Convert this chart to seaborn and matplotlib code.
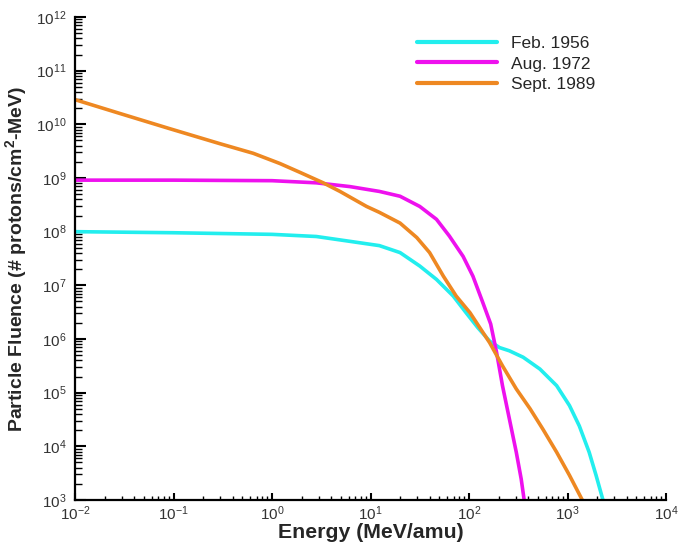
import numpy as np
import pandas as pd
import matplotlib
matplotlib.use('Agg')
import matplotlib.pyplot as plt
from matplotlib.ticker import LogLocator, FuncFormatter, NullFormatter
import seaborn as sns

# ── Data (log10 values) ──────────────────────────────────
feb1956_logE = [-2, -1, 0, 0.45, 0.79, 1.09, 1.30, 1.50, 1.67, 1.84, 1.97, 2.09,
                2.21, 2.31, 2.41, 2.55, 2.72, 2.89, 3.02, 3.12, 3.22, 3.29, 3.36]
feb1956_logF = [8.00, 7.98, 7.95, 7.91, 7.82, 7.74, 7.61, 7.36, 7.11, 6.80, 6.49, 6.21,
                5.96, 5.84, 5.78, 5.66, 5.44, 5.13, 4.76, 4.38, 3.89, 3.46, 3.00]

aug1972_logE = [-2, -1, 0, 0.45, 0.79, 1.09, 1.30, 1.50, 1.67, 1.80, 1.94, 2.04,
                2.14, 2.22, 2.28, 2.34, 2.41, 2.48, 2.53, 2.56]
aug1972_logF = [8.96, 8.96, 8.95, 8.91, 8.84, 8.75, 8.66, 8.47, 8.23, 7.92, 7.54, 7.17,
                6.68, 6.28, 5.75, 5.13, 4.51, 3.89, 3.39, 3.00]

sep1989_logE = [-2, -1.54, -1.04, -0.53, -0.19, 0.08, 0.29, 0.52, 0.69, 0.96, 1.09, 1.30,
                1.47, 1.60, 1.74, 1.87, 2.01, 2.11, 2.21, 2.34, 2.48, 2.62, 2.75, 2.89,
                3.02, 3.15]
sep1989_logF = [10.46, 10.20, 9.92, 9.64, 9.46, 9.27, 9.10, 8.91, 8.75, 8.47, 8.36, 8.16,
                7.89, 7.61, 7.17, 6.80, 6.49, 6.21, 5.93, 5.50, 5.07, 4.70, 4.32, 3.89,
                3.46, 3.00]

labels = ["Feb. 1956", "Aug. 1972", "Sept. 1989"]
colors = ["#22EEEE", "#EE11EE", "#EE8822"]

frames = []
for lab, le, lf in zip(labels,
                       [feb1956_logE, aug1972_logE, sep1989_logE],
                       [feb1956_logF, aug1972_logF, sep1989_logF]):
    frames.append(pd.DataFrame({"Energy": np.power(10.0, le),
                                "Fluence": np.power(10.0, lf),
                                "Event": lab}))
df = pd.concat(frames, ignore_index=True)

# ── Style ─────────────────────────────────────────────────
sns.set_style("white")
plt.rcParams['font.family'] = ['Liberation Sans', 'DejaVu Sans']
plt.rcParams['mathtext.fontset'] = 'custom'
plt.rcParams['mathtext.rm'] = 'Liberation Sans'
plt.rcParams['mathtext.it'] = 'Liberation Sans'
plt.rcParams['mathtext.bf'] = 'Liberation Sans:bold'

fig = plt.figure(figsize=(6.81, 5.42), dpi=100)
ax = fig.add_axes([75 / 681, 1 - 500 / 542, (666 - 75) / 681, (500 - 17) / 542])

sns.lineplot(data=df, x="Energy", y="Fluence", hue="Event", hue_order=labels,
             palette=colors, linewidth=2.6, sort=False, estimator=None, ax=ax)

ax.set_xscale("log")
ax.set_yscale("log")
ax.set_xlim(1e-2, 1e4)
ax.set_ylim(1e3, 1e12)

ax.spines["top"].set_visible(False)
ax.spines["right"].set_visible(False)
for s in ["left", "bottom"]:
    ax.spines[s].set_linewidth(1.6)
    ax.spines[s].set_color("black")

ax.xaxis.set_major_locator(LogLocator(base=10, numticks=20))
ax.yaxis.set_major_locator(LogLocator(base=10, numticks=20))
ax.xaxis.set_minor_locator(LogLocator(base=10, subs=np.arange(2, 10), numticks=20))
ax.yaxis.set_minor_locator(LogLocator(base=10, subs=np.arange(2, 10), numticks=20))
fmt = FuncFormatter(lambda v, p: r"$10^{%d}$" % int(round(np.log10(v))))
ax.xaxis.set_major_formatter(fmt)
ax.yaxis.set_major_formatter(fmt)
ax.xaxis.set_minor_formatter(NullFormatter())
ax.yaxis.set_minor_formatter(NullFormatter())

ax.tick_params(axis="both", which="both", direction="in", colors="black",
               labelcolor="#333333", labelsize=11, left=True, bottom=True)
ax.tick_params(axis="x", which="major", length=5, width=1.5, pad=3)
ax.tick_params(axis="x", which="minor", length=3, width=1.0)
ax.tick_params(axis="y", which="major", length=8, width=1.5, pad=6)
ax.tick_params(axis="y", which="minor", length=5, width=1.0)

ax.set_xlabel("Energy (MeV/amu)", fontsize=15.3, fontweight="bold")
ax.xaxis.set_label_coords(0.5, -0.048)
ax.set_ylabel(r"Particle Fluence (# protons/cm$^{\mathbf{2}}$-MeV)", fontsize=14,
              fontweight="bold")
ax.yaxis.set_label_coords(-0.078, 0.5)

leg = ax.legend(loc="upper left", bbox_to_anchor=(408 / 681, 1 - 27 / 542),
                bbox_transform=fig.transFigure, frameon=False, fontsize=12.5,
                handlelength=4.6, handletextpad=0.85, labelspacing=0.32,
                borderpad=0, title=None)
for line in leg.get_lines():
    line.set_linewidth(3)

fig.savefig("out.png", dpi=100)
plt.close("all")
